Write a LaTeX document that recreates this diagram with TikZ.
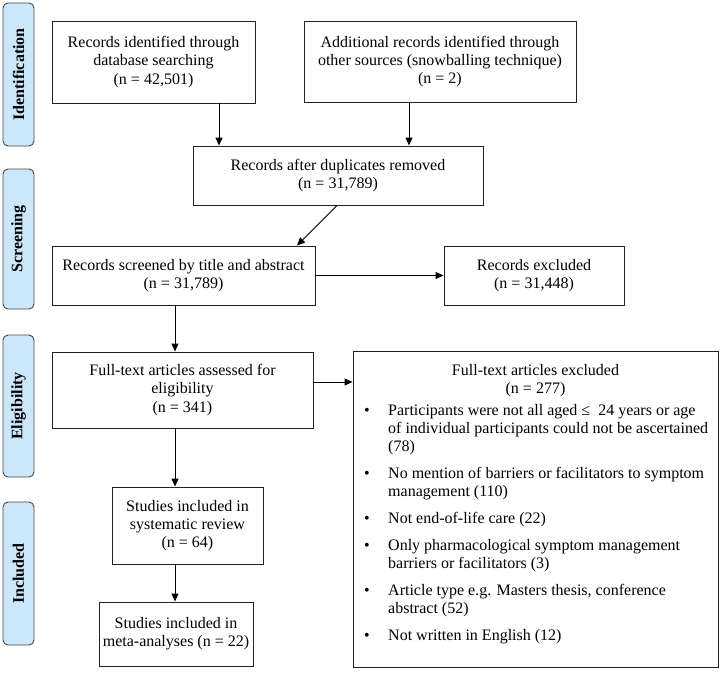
\documentclass[tikz,border=0pt]{standalone}
\usepackage{fontspec}
\setmainfont{Liberation Serif}
\usetikzlibrary{arrows.meta}
\definecolor{phasefill}{RGB}{205,231,250}
\definecolor{phaseedge}{RGB}{70,70,70}
\definecolor{boxedge}{RGB}{35,35,35}
\begin{document}
\begin{tikzpicture}[x=1pt,y=-1pt,
  box/.style={draw=boxedge, line width=0.9pt, inner sep=0pt, align=center,
    font=\fontsize{16}{18.3}\selectfont},
  phasebar/.style={draw=phaseedge, fill=phasefill, rounded corners=5pt, line width=0.9pt,
    inner sep=0pt, rotate=90, font=\fontsize{16}{18.3}\selectfont\bfseries},
  arr/.style={draw=black, line width=1pt, -{Triangle[length=8pt,width=7pt]}},
  txt/.style={inner sep=0pt, anchor=base west, font=\fontsize{16}{18.3}\selectfont},
  ctxt/.style={inner sep=0pt, anchor=base, font=\fontsize{16}{18.3}\selectfont},
  bul/.style={inner sep=0pt, anchor=base, font=\fontsize{16}{18.3}\selectfont}
]
\useasboundingbox (0,0) rectangle (721,677);

% phase bars
\node[phasebar, minimum width=143, minimum height=31] (pid) at (18.5,74.5) {Identification};
\node[phasebar, minimum width=140, minimum height=31] (pscr) at (18.5,239) {Screening};
\node[phasebar, minimum width=142, minimum height=31] (pel) at (18.5,406) {Eligibility};
\node[phasebar, minimum width=143, minimum height=31] (pinc) at (18.5,573.5) {Included};

% boxes
\node[box, minimum width=203, minimum height=82] (db) at (153.5,62)
  {Records identified through\\database searching\\(n = 42,501)};
\node[box, minimum width=272, minimum height=81] (other) at (440,61.5)
  {Additional records identified through\\other sources (snowballing technique)\\(n = 2)};
\node[box, minimum width=290, minimum height=59] (dedup) at (338,175.5)
  {Records after duplicates removed\\(n = 31,789)};
\node[box, minimum width=263, minimum height=59] (screen) at (183.5,275.5)
  {Records screened by title and abstract\\(n = 31,789)};
\node[box, minimum width=180, minimum height=59] (recex) at (534,275.5)
  {Records excluded\\(n = 31,448)};
\node[box, minimum width=261, minimum height=76] (full) at (182.5,390)
  {Full-text articles assessed for\\eligibility\\(n = 341)};
\node[box, minimum width=365, minimum height=316] (fullex) at (535.5,509) {};
\node[box, minimum width=151, minimum height=77] (sysrev) at (187.5,525.5)
  {Studies included in\\systematic review\\(n = 64)};
\node[box, minimum width=154, minimum height=64] (meta) at (176,634)
  {Studies included in\\meta-analyses (n = 22)};

% exclusion box contents
\node[ctxt] (exh1) at (535.5,375) {Full-text articles excluded};
\node[ctxt] (exh2) at (535.5,393) {(n = 277)};

\node[bul] (b1) at (367,415) {•};
\node[txt] (e1a) at (388,415) {Participants were not all aged ≤\ \ 24 years or age};
\node[txt] (e1b) at (388,433.3) {of individual participants could not be ascertained};
\node[txt] (e1c) at (388,451.6) {(78)};

\node[bul] (b2) at (367,478.4) {•};
\node[txt] (e2a) at (388,478.4) {No mention of barriers or facilitators to symptom};
\node[txt] (e2b) at (388,496.7) {management (110)};

\node[bul] (b3) at (367,523.5) {•};
\node[txt] (e3a) at (388,523.5) {Not end-of-life care (22)};

\node[bul] (b4) at (367,550.3) {•};
\node[txt] (e4a) at (388,550.3) {Only pharmacological symptom management};
\node[txt] (e4b) at (388,568.6) {barriers or facilitators (3)};

\node[bul] (b5) at (367,595.4) {•};
\node[txt] (e5a) at (388,595.4) {Article type e.g. Masters thesis, conference};
\node[txt] (e5b) at (388,613.7) {abstract (52)};

\node[bul] (b6) at (367,640.5) {•};
\node[txt] (e6a) at (388,640.5) {Not written in English (12)};

% helper coordinates
\coordinate (xa) at (219,0);
\coordinate (xb) at (409,0);
\coordinate (xc) at (337,0);
\coordinate (xd) at (297,0);
\coordinate (col) at (175,0);
\coordinate (ry) at (0,382);

% connectors
\draw[arr] (db.south -| xa) -- (dedup.north -| xa);
\draw[arr] (other.south -| xb) -- (dedup.north -| xb);
\draw[arr] (dedup.south -| xc) -- (screen.north -| xd);
\draw[arr] (screen.east) -- (recex.west);
\draw[arr] (screen.south -| col) -- (full.north -| col);
\draw[arr] (full.east |- ry) -- (fullex.west |- ry);
\draw[arr] (full.south -| col) -- (sysrev.north -| col);
\draw[arr] (sysrev.south -| col) -- (meta.north -| col);
\end{tikzpicture}
\end{document}
